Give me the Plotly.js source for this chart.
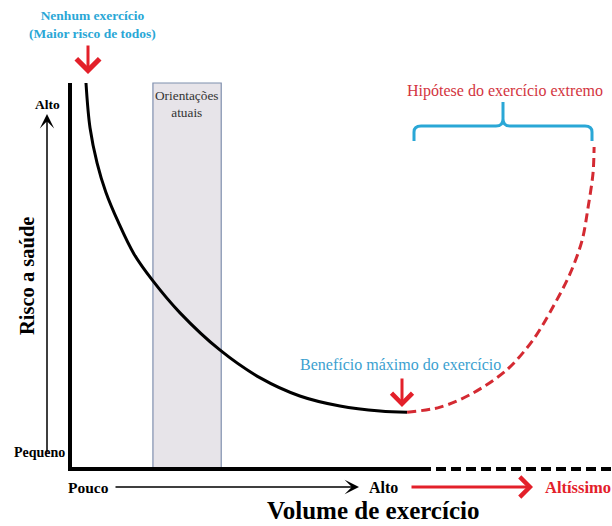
<!DOCTYPE html>
<html>
<head>
<meta charset="utf-8">
<script src="https://cdn.plot.ly/plotly-3.0.1.min.js"></script>
<style>
  html, body { margin: 0; padding: 0; background: #fff; }
  #chart { width: 612px; height: 526px; }
</style>
</head>
<body>
<div id="chart"></div>
<script>
// volume of exercise (0-100) vs. health risk (0-100)
const currentVolume = [2.95, 3.7, 5, 6.6, 8.9, 11.8, 15.3, 20.3, 27.7, 35.1, 42.4, 49.8, 57.2, 62.2];
const currentRisk   = [100, 88.3, 79.2, 71.7, 63.9, 55.6, 48.6, 40.3, 30.6, 23.4, 18.7, 16.1, 14.8, 14.5];

const extremeVolume = [62.2, 68.3, 74.4, 80.6, 85.4, 89.1, 92.3, 94.5, 95.6, 96.5, 96.7];
const extremeRisk   = [14.5, 15.8, 19.5, 25.5, 33.2, 41.8, 50.6, 59.2, 67.8, 76.6, 83.4];

const guidelineRange = [15.3, 27.9];

const yLabels = ['Pequeno', 'Alto'];
const xLabels = ['Pouco', 'Alto', 'Altíssimo'];

// figure pixels -> axis units (plot fills the whole page)
function X(px) { return (px - 70) / 5.42; }
function Y(py) { return (468 - py) / 3.85; }

const serif = '"Liberation Serif", "Times New Roman", serif';
const cyan = '#2aa7d6';
const red = '#e3202a';

const data = [
  {
    x: currentVolume, y: currentRisk,
    type: 'scatter', mode: 'lines',
    line: { color: '#000', width: 3, shape: 'spline', smoothing: 1 },
    hoverinfo: 'skip'
  },
  {
    x: extremeVolume, y: extremeRisk,
    type: 'scatter', mode: 'lines',
    line: { color: '#d42a32', width: 3, shape: 'spline', smoothing: 0.9, dash: '9px,5px' },
    hoverinfo: 'skip'
  }
];

function P(px, py) { return X(px) + ',' + Y(py); }
const brace = 'M' + P(414, 141) + ' L' + P(414, 132) + ' Q' + P(414, 126) + ' ' + P(421, 126) +
  ' L' + P(496, 126) + ' Q' + P(503, 126) + ' ' + P(503, 119) + ' L' + P(503, 102) +
  ' M' + P(503, 119) + ' Q' + P(503, 126) + ' ' + P(510, 126) + ' L' + P(585, 126) +
  ' Q' + P(592, 126) + ' ' + P(592, 132) + ' L' + P(592, 141);

const shapes = [
  { type: 'rect', layer: 'below', x0: guidelineRange[0], x1: guidelineRange[1], y0: Y(468), y1: Y(83),
    fillcolor: '#e7e4e9', line: { color: '#7f8fae', width: 1.2 } },
  { type: 'line', x0: X(70), x1: X(70), y0: Y(83), y1: Y(471), line: { color: '#000', width: 4 } },
  { type: 'line', x0: X(68), x1: X(421), y0: Y(469), y1: Y(469), line: { color: '#000', width: 4 } },
  { type: 'line', x0: X(421), x1: X(612), y0: Y(469), y1: Y(469), line: { color: '#000', width: 4, dash: '10px,5px' } },
  { type: 'path', path: brace, line: { color: cyan, width: 3 } }
];

function label(text, px, py, size, color, bold, extra) {
  return Object.assign({
    text: bold ? '<b>' + text + '</b>' : text,
    x: X(px), y: Y(py), showarrow: false,
    xanchor: 'center', yanchor: 'middle',
    font: { family: serif, size: size, color: color }
  }, extra || {});
}

function arrow(hx, hy, tx, ty, color, width, size, head) {
  return {
    text: '', x: X(hx), y: Y(hy), ax: tx - hx, ay: ty - hy,
    showarrow: true, arrowhead: head, arrowsize: size, arrowwidth: width, arrowcolor: color,
    standoff: 0, startstandoff: 0
  };
}

const annotations = [
  label('Nenhum exercício<br>(Maior risco de todos)', 92, 24, 13.5, cyan, true),
  arrow(88, 74, 88, 44, red, 3, 1.5, 4),
  label('Orientações<br>atuais', 187, 104, 13.3, '#333', false),
  label('Hipótese do exercício extremo', 505, 91, 16, '#d3343e', false),
  label('Benefício máximo do exercício', 400, 364, 16, '#3b9fd0', false),
  arrow(402, 407, 402, 377, red, 3, 1.35, 4),

  label(yLabels[1], 47, 104, 13.5, '#000', true),
  label(yLabels[0], 39, 452, 14, '#000', true),
  arrow(47, 114, 47, 454, '#000', 1.5, 1.6, 3),
  label('Risco a saúde', 27, 276, 20.5, '#000', true, { textangle: -90 }),

  label(xLabels[0], 88, 487, 15.5, '#000', true),
  arrow(359, 487, 114, 487, '#000', 1.5, 1.6, 3),
  label(xLabels[1], 383, 487, 16, '#000', true),
  arrow(533, 487, 410, 487, red, 3, 1.3, 4),
  label(xLabels[2], 543, 487, 16.5, red, true, { xanchor: 'left' }),
  label('Volume de exercício', 373, 510, 25, '#000', true)
];

const layout = {
  width: 612, height: 526,
  margin: { l: 0, r: 0, t: 0, b: 0 },
  paper_bgcolor: '#fff', plot_bgcolor: '#fff',
  showlegend: false,
  xaxis: { range: [X(0), X(612)], visible: false, fixedrange: true },
  yaxis: { range: [Y(526), Y(0)], visible: false, fixedrange: true },
  shapes: shapes,
  annotations: annotations
};

Plotly.newPlot('chart', data, layout, { displayModeBar: false, staticPlot: true });
</script>
</body>
</html>
